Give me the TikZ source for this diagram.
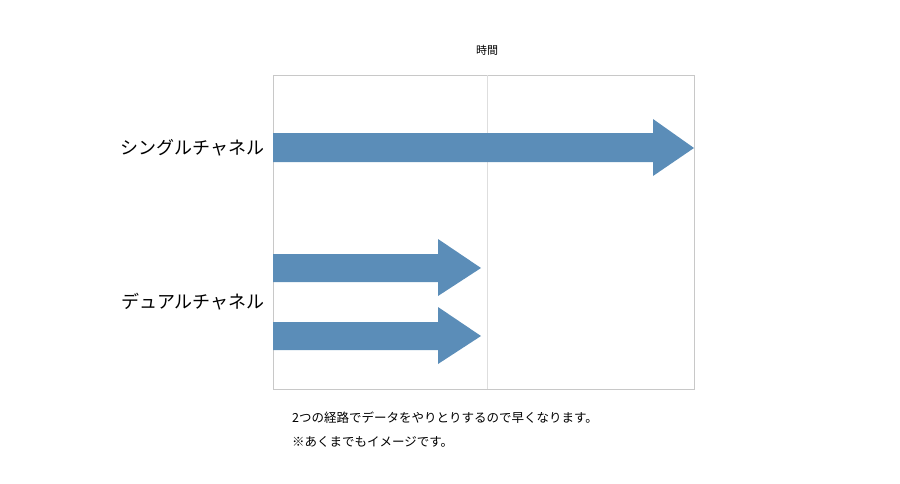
\documentclass[tikz,border=0pt]{standalone}
\usepackage{fontspec}
\newfontfamily\cjk{Noto Sans CJK JP}
\definecolor{arr}{HTML}{5B8DB8}
\definecolor{grid}{HTML}{C8C8C8}
\begin{document}
\begin{tikzpicture}[x=1pt,y=-1pt,
  fatarrow/.style={fill=arr,draw=none},
  lbl/.style={font=\cjk\fontsize{18}{20}\selectfont,anchor=east,inner sep=0},
  note/.style={font=\cjk\fontsize{12.5}{15}\selectfont,anchor=west,inner sep=0}]
\useasboundingbox (0,0) rectangle (900,483);
\draw[grid,line width=0.8pt] (273,75) rectangle (694,389);
\draw[grid!60,line width=0.8pt] (487,75) -- (487,389);
\node[font=\cjk\fontsize{11}{13}\selectfont] (t) at (487,50) {時間};
\fill[fatarrow] (273,133) -- (653,133) -- (653,119) -- (694,148) -- (653,176) -- (653,162) -- (273,162) -- cycle;
\fill[fatarrow] (273,254) -- (438,254) -- (438,239) -- (481,268) -- (438,296) -- (438,282) -- (273,282) -- cycle;
\fill[fatarrow] (273,322) -- (438,322) -- (438,307) -- (481,336) -- (438,364) -- (438,350) -- (273,350) -- cycle;
\node[lbl] (s) at (265,148) {シングルチャネル};
\node[lbl] (d) at (265,302) {デュアルチャネル};
\node[note] (n1) at (292,418) {2つの経路でデータをやりとりするので早くなります。};
\node[note] (n2) at (292,442) {※あくまでもイメージです。};
\end{tikzpicture}
\end{document}
